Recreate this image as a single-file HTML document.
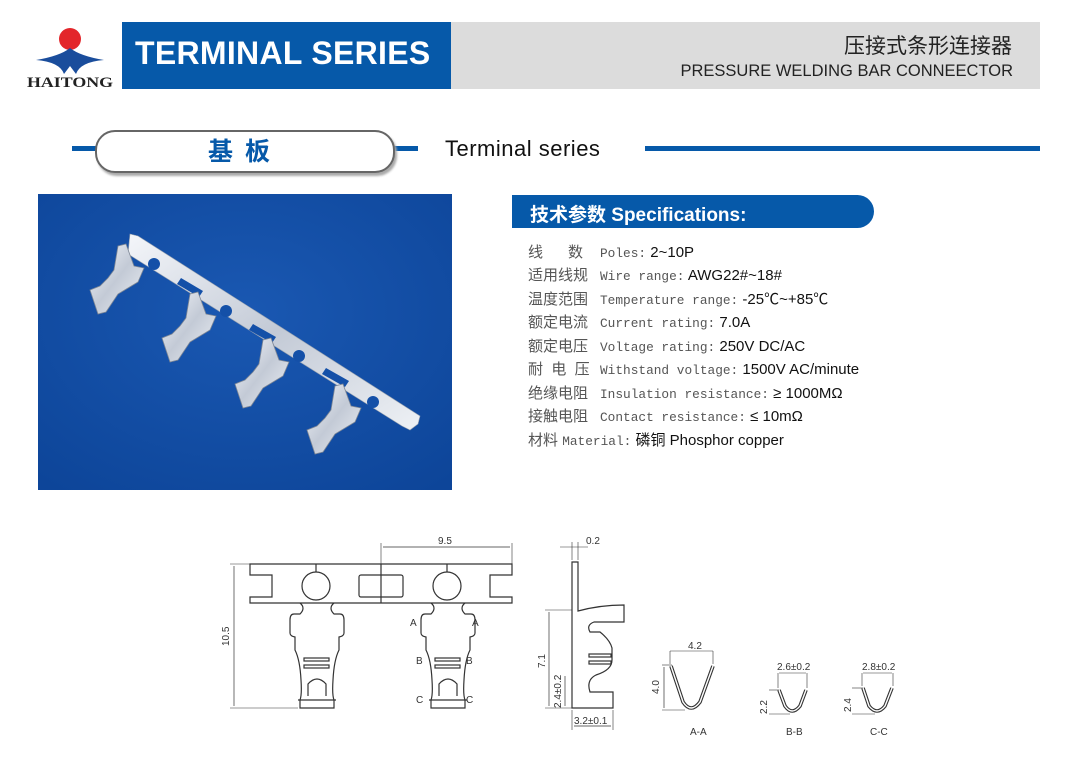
<!DOCTYPE html>
<html><head><meta charset="utf-8">
<style>
*{margin:0;padding:0;box-sizing:border-box}
body{width:1080px;height:760px;background:#fff;position:relative;overflow:hidden;font-family:"Liberation Sans","Noto Sans CJK SC",sans-serif}
.abs{position:absolute}
.spec{position:absolute;left:528px;font-size:15px;color:#111;white-space:nowrap}
.spec .cn{color:#555;font-family:"Liberation Sans","Noto Sans CJK SC",sans-serif;display:inline-block;width:72px;letter-spacing:0}
.spec .en{color:#555;font-family:"Liberation Mono","DejaVu Sans Mono",monospace;font-size:12.8px}
</style></head><body>

<svg class="abs" style="left:20px;top:22px" width="100" height="70" viewBox="0 0 100 70">
<circle cx="50" cy="17" r="11" fill="#e3262b"/>
<path d="M16 38 Q40 34 50 26 Q60 34 84 38 Q60 40 56 52 L50 44 L44 52 Q40 40 16 38Z" fill="#1a4d9c"/>
<text x="50" y="65" text-anchor="middle" font-family="Liberation Serif,serif" font-weight="bold" font-size="15" fill="#222" textLength="86" lengthAdjust="spacingAndGlyphs">HAITONG</text>
</svg>

<div class="abs" style="left:122px;top:22px;width:329px;height:67px;background:#0659a9"></div>
<div class="abs" style="left:135px;top:35px;color:#fff;font-weight:bold;font-size:32px;letter-spacing:0.3px">TERMINAL SERIES</div>
<div class="abs" style="left:451px;top:22px;width:589px;height:67px;background:#dcdcdc"></div>
<div class="abs" style="right:68px;top:30px;font-size:21px;color:#222">压接式条形连接器</div>
<div class="abs" style="right:67px;top:62px;font-size:16.5px;color:#222">PRESSURE WELDING BAR CONNEECTOR</div>

<div class="abs" style="left:72px;top:146px;width:346px;height:5px;background:#0659a9"></div>
<div class="abs" style="left:95px;top:130px;width:300px;height:43px;border:2px solid #666;border-radius:20px;background:#fff;box-shadow:2px 3px 2px #aaa"></div>
<div class="abs" style="left:95px;top:132px;width:300px;text-align:center;color:#0659a9;font-weight:bold;font-size:25px;letter-spacing:12px">基板</div>
<div class="abs" style="left:445px;top:136px;font-size:22px;color:#111;letter-spacing:0.5px">Terminal series</div>
<div class="abs" style="left:645px;top:146px;width:395px;height:5px;background:#0659a9"></div>

<svg class="abs" style="left:38px;top:194px" width="414" height="296" viewBox="0 0 414 296">
<defs>
<radialGradient id="bg" cx="50%" cy="40%" r="75%"><stop offset="0" stop-color="#1a58b2"/><stop offset="1" stop-color="#0d4599"/></radialGradient>
<linearGradient id="met" x1="0" y1="0" x2="1" y2="1"><stop offset="0" stop-color="#f4f6fa"/><stop offset="0.5" stop-color="#c3cad6"/><stop offset="1" stop-color="#eef1f5"/></linearGradient>
</defs>
<rect width="414" height="296" fill="url(#bg)"/>
<polygon points="92,40 100,42 382,222 380,230 372,236 364,232 90,60" fill="url(#met)" stroke="#9aa3b0" stroke-width="0.6"/>
<g fill="#1450a8">
<circle cx="116" cy="70" r="6"/><circle cx="188" cy="117" r="6"/><circle cx="261" cy="162" r="6"/><circle cx="335" cy="208" r="6"/>
<polygon points="143,84 165,97 161,103 139,90"/><polygon points="215,130 238,143 234,149 211,136"/><polygon points="288,174 311,187 307,193 284,180"/>
</g>
<g fill="url(#met)" stroke="#7e8795" stroke-width="0.8">
<path d="M80,52 L88,50 L96,72 L106,74 L100,88 L80,100 L68,118 L60,120 L52,96 L62,92 L70,84 L76,76Z"/>
<path d="M152,100 L160,98 L168,120 L178,122 L172,136 L152,148 L140,166 L132,168 L124,144 L134,140 L142,132 L148,124Z"/>
<path d="M225,146 L233,144 L241,166 L251,168 L245,182 L225,194 L213,212 L205,214 L197,190 L207,186 L215,178 L221,170Z"/>
<path d="M297,192 L305,190 L313,212 L323,214 L317,228 L297,240 L285,258 L277,260 L269,236 L279,232 L287,224 L293,216Z"/>
</g>
</svg>

<div class="abs" style="left:512px;top:195px;width:362px;height:33px;background:#0659a9;border-radius:0 17px 17px 0"></div>
<div class="abs" style="left:530px;top:200px;color:#fff;font-weight:bold;font-size:19px">技术参数 Specifications:</div>
<div class="spec" style="top:241px"><span class="cn">线&nbsp;&nbsp;&nbsp;&nbsp;&nbsp;&nbsp;数</span><span class="en">Poles:</span> 2~10P</div>
<div class="spec" style="top:264px"><span class="cn">适用线规</span><span class="en">Wire range:</span> AWG22#~18#</div>
<div class="spec" style="top:288px"><span class="cn">温度范围</span><span class="en">Temperature range:</span> -25℃~+85℃</div>
<div class="spec" style="top:311px"><span class="cn">额定电流</span><span class="en">Current rating:</span> 7.0A</div>
<div class="spec" style="top:335px"><span class="cn">额定电压</span><span class="en">Voltage rating:</span> 250V DC/AC</div>
<div class="spec" style="top:358px"><span class="cn">耐&nbsp;&nbsp;电&nbsp;&nbsp;压</span><span class="en">Withstand voltage:</span> 1500V AC/minute</div>
<div class="spec" style="top:382px"><span class="cn">绝缘电阻</span><span class="en">Insulation resistance:</span> ≥ 1000MΩ</div>
<div class="spec" style="top:405px"><span class="cn">接触电阻</span><span class="en">Contact resistance:</span> ≤ 10mΩ</div>
<div class="spec" style="top:429px"><span class="cn" style="width:auto">材料</span> <span class="en">Material:</span> 磷铜 Phosphor copper</div>

<svg class="abs" style="left:0;top:0" width="1080" height="760" viewBox="0 0 1080 760" font-family="Liberation Sans,sans-serif" font-size="10" fill="none" stroke="#333" stroke-width="1.2">
<path d="M250,564 H512 V575 H490 V597 H512 V603 H250 V597 H272 V575 H250Z"/>
<line x1="381" y1="564" x2="381" y2="603"/>
<line x1="316" y1="564" x2="316" y2="572"/><line x1="447" y1="564" x2="447" y2="572"/>
<circle cx="316" cy="586" r="14"/><circle cx="447" cy="586" r="14"/>
<rect x="359" y="575" width="44" height="22" rx="2"/>
<g id="t1">
<path d="M300,603 Q306,608 300,614 H294 Q290,614 290,620 V633 Q290,636 295,637 V650 Q300,660 301,680 Q302,695 300,700 V708 H334 V700 Q332,695 333,680 Q334,660 339,650 V637 Q344,636 344,633 V620 Q344,614 340,614 H334 Q328,608 334,603"/>
<rect x="304" y="658" width="25" height="3"/><rect x="304" y="665" width="25" height="3"/>
<path d="M308,696 V684 Q317,674 326,684 V696"/>
<line x1="298" y1="700" x2="336" y2="700"/>
</g>
<use href="#t1" transform="translate(131,0)"/>
<g fill="#333" stroke="none" font-size="10">
<text x="410" y="626">A</text><text x="472" y="626">A</text>
<text x="416" y="664">B</text><text x="466" y="664">B</text>
<text x="416" y="703">C</text><text x="466" y="703">C</text>
</g>
<line x1="230" y1="564" x2="250" y2="564" stroke-width="0.6"/><line x1="230" y1="708" x2="298" y2="708" stroke-width="0.6"/>
<line x1="234" y1="566" x2="234" y2="706" stroke-width="0.7"/>
<text x="0" y="0" fill="#333" stroke="none" transform="translate(229,646) rotate(-90)">10.5</text>
<line x1="381" y1="543" x2="381" y2="564" stroke-width="0.6"/><line x1="512" y1="543" x2="512" y2="564" stroke-width="0.6"/>
<line x1="383" y1="547" x2="510" y2="547" stroke-width="0.7"/>
<text x="438" y="544" fill="#333" stroke="none">9.5</text>
<path d="M572,562 V708 H613 V692 H590 Q586,680 596,675 Q612,670 612,660 V648 Q610,640 600,632 H590 Q586,625 594,622 H624 V605 Q600,605 578,611 V562Z"/>
<rect x="589" y="654" width="22" height="3"/><rect x="589" y="661" width="22" height="3"/>
<line x1="560" y1="547" x2="588" y2="547" stroke-width="0.6"/>
<line x1="572" y1="542" x2="572" y2="560" stroke-width="0.6"/><line x1="578" y1="542" x2="578" y2="560" stroke-width="0.6"/>
<text x="586" y="544" fill="#333" stroke="none">0.2</text>
<line x1="545" y1="610" x2="572" y2="610" stroke-width="0.6"/><line x1="545" y1="708" x2="572" y2="708" stroke-width="0.6"/>
<line x1="549" y1="612" x2="549" y2="706" stroke-width="0.7"/>
<text x="0" y="0" fill="#333" stroke="none" transform="translate(545,668) rotate(-90)">7.1</text>
<line x1="565" y1="676" x2="565" y2="706" stroke-width="0.7"/>
<text x="0" y="0" fill="#333" stroke="none" transform="translate(561,708) rotate(-90)">2.4±0.2</text>
<line x1="572" y1="710" x2="572" y2="730" stroke-width="0.6"/><line x1="613" y1="710" x2="613" y2="730" stroke-width="0.6"/>
<line x1="574" y1="726" x2="611" y2="726" stroke-width="0.7"/>
<text x="574" y="724" fill="#333" stroke="none">3.2±0.1</text>
<path d="M671,666 L683,702 Q691,714 700,702 L713,666" stroke-width="3.6"/>
<path d="M671,666 L683,702 Q691,714 700,702 L713,666" stroke="#fff" stroke-width="1.4"/>
<line x1="670" y1="651" x2="713" y2="651" stroke-width="0.6"/><line x1="670" y1="651" x2="670" y2="664" stroke-width="0.6"/><line x1="713" y1="651" x2="713" y2="664" stroke-width="0.6"/>
<text x="688" y="649" fill="#333" stroke="none">4.2</text>
<line x1="662" y1="665" x2="672" y2="665" stroke-width="0.6"/><line x1="662" y1="710" x2="685" y2="710" stroke-width="0.6"/>
<line x1="664" y1="667" x2="664" y2="708" stroke-width="0.7"/>
<text x="0" y="0" fill="#333" stroke="none" transform="translate(659,694) rotate(-90)">4.0</text>
<text x="690" y="735" fill="#333" stroke="none">A-A</text>
<path d="M779,690 L785,706 Q792,716 800,706 L806,690" stroke-width="3.6"/>
<path d="M779,690 L785,706 Q792,716 800,706 L806,690" stroke="#fff" stroke-width="1.4"/>
<line x1="778" y1="673" x2="778" y2="688" stroke-width="0.6"/><line x1="807" y1="673" x2="807" y2="688" stroke-width="0.6"/>
<line x1="779" y1="673" x2="806" y2="673" stroke-width="0.6"/>
<text x="777" y="670" fill="#333" stroke="none">2.6±0.2</text>
<line x1="769" y1="690" x2="779" y2="690" stroke-width="0.6"/><line x1="769" y1="714" x2="790" y2="714" stroke-width="0.6"/>
<text x="0" y="0" fill="#333" stroke="none" transform="translate(767,714) rotate(-90)">2.2</text>
<text x="786" y="735" fill="#333" stroke="none">B-B</text>
<path d="M863,688 L869,706 Q877,716 885,706 L892,688" stroke-width="3.6"/>
<path d="M863,688 L869,706 Q877,716 885,706 L892,688" stroke="#fff" stroke-width="1.4"/>
<line x1="862" y1="673" x2="862" y2="686" stroke-width="0.6"/><line x1="893" y1="673" x2="893" y2="686" stroke-width="0.6"/>
<line x1="863" y1="673" x2="892" y2="673" stroke-width="0.6"/>
<text x="862" y="670" fill="#333" stroke="none">2.8±0.2</text>
<line x1="852" y1="688" x2="863" y2="688" stroke-width="0.6"/><line x1="852" y1="714" x2="875" y2="714" stroke-width="0.6"/>
<text x="0" y="0" fill="#333" stroke="none" transform="translate(851,712) rotate(-90)">2.4</text>
<text x="870" y="735" fill="#333" stroke="none">C-C</text>
</svg>
</body></html>
